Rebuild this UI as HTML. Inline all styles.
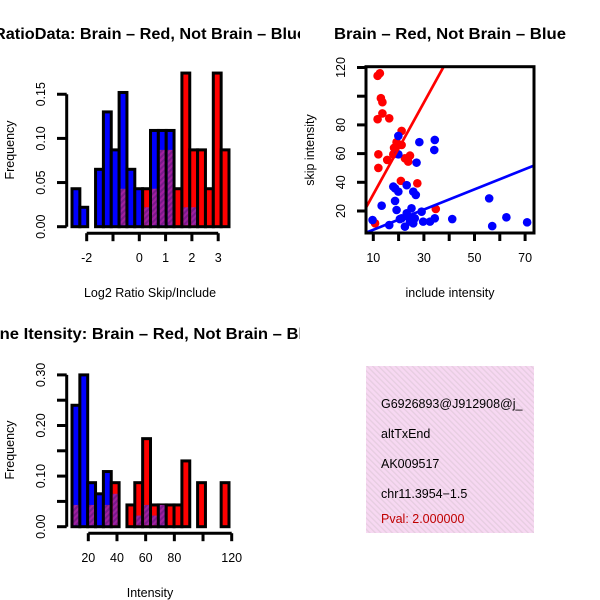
<!DOCTYPE html>
<html><head><meta charset="utf-8"><style>
html,body{margin:0;padding:0;background:#fff;width:600px;height:600px;overflow:hidden}
svg text{font-family:"Liberation Sans",sans-serif}
</style></head><body>
<svg id="c" width="600" height="600" xmlns="http://www.w3.org/2000/svg">
<defs>
<pattern id="purp" patternUnits="userSpaceOnUse" width="4" height="4" patternTransform="rotate(45)">
<rect width="4" height="4" fill="#a020a0"/><rect width="2" height="4" fill="#7a1a8a"/></pattern>
<pattern id="pink" patternUnits="userSpaceOnUse" width="4" height="4" patternTransform="rotate(-45)">
<rect width="4" height="4" fill="#f7d8f2"/><rect width="1.3" height="4" fill="#e6cde0"/></pattern>
<clipPath id="q1"><rect x="0" y="0" width="300" height="300"/></clipPath>
<clipPath id="q2"><rect x="300" y="0" width="300" height="300"/></clipPath>
<clipPath id="q3"><rect x="0" y="300" width="300" height="300"/></clipPath>
<clipPath id="q4"><rect x="366" y="366" width="168" height="167"/></clipPath>
<clipPath id="box"><rect x="366" y="66.7" width="168" height="166.3"/></clipPath>
</defs>
<g id="p1" clip-path="url(#q1)"></g>
<g id="p2" clip-path="url(#q2)"></g>
<g id="p3" clip-path="url(#q3)"></g>
<g id="p4">
<rect x="366" y="366" width="168" height="167" fill="url(#pink)"/>
<g clip-path="url(#q4)" font-size="12.5">
<text x="381" y="408">G6926893@J912908@j_</text>
<text x="381" y="438">altTxEnd</text>
<text x="381" y="468">AK009517</text>
<text x="381" y="498">chr11.3954−1.5</text>
<text x="381" y="523" fill="#c00000">Pval: 2.000000</text>
</g></g>
</svg>
<script>
// Top-left histogram data (frequency per bin)
const ratioBlue = [0.043,0.022,0,0.065,0.13,0.087,0.152,0.065,0.043,0.022,0.109,0.109,0.109,0,0.022,0.022,0,0,0,0];
const ratioRed  = [0,0,0,0,0,0,0.043,0,0,0.043,0.043,0.087,0.087,0.043,0.174,0.087,0.087,0.043,0.174,0.087];
const ratioXTicks = [-2,-1,0,1,2,3];
const ratioXLabels = ["-2","","0","1","2","3"];
const ratioYTicks = [0,0.05,0.10,0.15];
// Bottom-left histogram data
const intBlue = [0.24,0.30,0.087,0.065,0.109,0.065,0,0,0.022,0.043,0.022,0.043,0,0,0,0,0,0,0,0];
const intRed  = [0.043,0,0.043,0,0.043,0.087,0,0.043,0.087,0.174,0.043,0.043,0.043,0.043,0.13,0,0.087,0,0,0.087];
const intXTicks = [20,40,60,80,100,120];
const intXLabels = ["20","40","60","80","","120"];
const intYTicks = [0,0.05,0.10,0.15,0.20,0.25,0.30];
const intYLabels = ["0.00","","0.10","","0.20","","0.30"];
// Scatter data
const redInc  = [11.7,12.6,13,13.6,13.6,11.7,16.3,12,12,15.5,18.2,19.2,21.2,21.2,22.5,24.5,23.8,20.9,27.4,34.7,10.7,17.9];
const redSkip = [114.2,116,98.6,95.8,88,84,84.6,59.5,50,55.6,64,68,75.8,66,56.7,58.6,54.4,41,39.3,21.4,11.4,59.5];
const blueInc  = [9.7,13.3,16.3,18.6,17.9,19.9,19.9,18.6,19.9,23.2,25.8,26.8,28.2,27.1,34.3,34.1,19.2,21.2,23.2,25.1,24.5,22.5,26.4,29.1,29.7,32.4,34.3,41.2,55.8,57,62.6,70.8,20.5,23.8,25.8];
const blueSkip = [13.7,23.7,10.2,27,37,72.3,59.5,35.8,33.5,38,33.5,31.2,68,53.7,69.5,62.5,20.7,14.9,18.4,21.9,12.6,9.1,14.9,19.5,12.6,12.6,14.9,14.4,28.8,9.5,15.6,12.1,14.4,16,11.4];
const redFit = [-0.4,3.2];   // intercept, slope
const blueFit = [-0.1,0.704];
const scXTicks = [10,20,30,40,50,60,70];
const scXLabels = ["10","","30","","50","","70"];
const scYTicks = [20,40,60,80,100,120];
const scYLabels = ["20","40","60","80","","120"];

const NS="http://www.w3.org/2000/svg";
function mk(parent,tag,attrs,text){const e=document.createElementNS(NS,tag);for(const k in attrs)e.setAttribute(k,attrs[k]);if(text!==undefined)e.textContent=text;parent.appendChild(e);return e;}

function hist(g,blue,red,yTop,ySc,xTicks,xLabels,xPos,yTicks,yLabels,title,titleLen,xTitle,yOff){
  const x0=72,bw=157/blue.length,y0=yTop;
  const Y=v=>y0-v*ySc;
  for(let i=0;i<blue.length;i++){
    const b=blue[i],r=red[i],mx=Math.max(b,r),mn=Math.min(b,r);
    if(mx<=0)continue;
    const x=x0+i*bw;
    const bar=mk(g,'rect',{x:x,y:Y(mx),width:bw,height:mx*ySc,fill:b>=r?'#0000ff':'#ff0000',stroke:'#000','stroke-width':3});
    
    
    if(mn>0){
      const p=mk(g,'rect',{x:x+1.5,y:Y(mn),width:bw-3,height:mn*ySc-1.5,fill:'url(#purp)'});
      
      
    }
  }
  const ya=mk(g,'g',{});
  
  
  mk(ya,'line',{x1:66.7,x2:66.7,y1:Y(yTicks[0]),y2:Y(yTicks[yTicks.length-1]),stroke:'#000','stroke-width':3});
  yTicks.forEach((t,i)=>{
    mk(ya,'line',{x1:57,x2:66.7,y1:Y(t),y2:Y(t),stroke:'#000','stroke-width':3});
    if(yLabels[i]){const tx=mk(ya,'text',{x:0,y:0,'font-size':12.5,'text-anchor':'middle',transform:`translate(45,${Y(t)}) rotate(-90)`},yLabels[i]);
      }
  });
  const xa=mk(g,'g',{});
  
  
  const ay=y0+6.5;
  mk(xa,'line',{x1:xPos(xTicks[0]),x2:xPos(xTicks[xTicks.length-1]),y1:ay,y2:ay,stroke:'#000','stroke-width':3});
  xTicks.forEach((t,i)=>{
    mk(xa,'line',{x1:xPos(t),x2:xPos(t),y1:ay,y2:ay+8,stroke:'#000','stroke-width':3});
    if(xLabels[i]){const tx=mk(xa,'text',{x:xPos(t),y:ay+29,'font-size':12.5,'text-anchor':'middle'},xLabels[i]);
      }
  });
  const xt=mk(g,'text',{x:150,y:yOff+297,'font-size':12.5,'text-anchor':'middle'},xTitle);
  
  const yt=mk(g,'text',{x:0,y:0,'font-size':12.5,'text-anchor':'middle',transform:`translate(14,${yOff+150}) rotate(-90)`},'Frequency');
  
  const tt=mk(g,'text',{x:150-titleLen/2,y:yOff+39,'font-size':15.5,'font-weight':'bold',textLength:titleLen,lengthAdjust:'spacingAndGlyphs'},title);
  
}
hist(document.getElementById('p1'),ratioBlue,ratioRed,226.7,883,ratioXTicks,ratioXLabels,v=>139.3+v*26.3,ratioYTicks,["0.00","0.05","0.10","0.15"],"RatioData: Brain – Red, Not Brain – Blue",312,"Log2 Ratio Skip/Include",0);
hist(document.getElementById('p3'),intBlue,intRed,526.7,506,intXTicks,intXLabels,v=>88.3+(v-20)*1.434,intYTicks,intYLabels,"Gene Itensity: Brain – Red, Not Brain – Blue",345,"Intensity",300);

(function(){
  const g=document.getElementById('p2');
  const X=v=>373.3+(v-10)*2.53, Y=v=>211-(v-20)*1.435;
  const pts=mk(g,'g',{'clip-path':'url(#box)'});
  
  redInc.forEach((v,i)=>{const c=mk(pts,'circle',{cx:X(v),cy:Y(redSkip[i]),r:4.3,fill:'#ff0000'});
    });
  blueInc.forEach((v,i)=>{const c=mk(pts,'circle',{cx:X(v),cy:Y(blueSkip[i]),r:4.3,fill:'#0000ff'});
    });
  const rl=mk(pts,'line',{x1:X(5),y1:Y(redFit[0]+redFit[1]*5),x2:X(75),y2:Y(redFit[0]+redFit[1]*75),stroke:'#ff0000','stroke-width':2.7});
  
  const bl=mk(pts,'line',{x1:X(5),y1:Y(blueFit[0]+blueFit[1]*5),x2:X(75),y2:Y(blueFit[0]+blueFit[1]*75),stroke:'#0000ff','stroke-width':2.7});
  
  const fr=mk(g,'rect',{x:366,y:66.7,width:168,height:166.3,fill:'none',stroke:'#000','stroke-width':3});
  
  scXTicks.forEach((t,i)=>{
    mk(g,'line',{x1:X(t),x2:X(t),y1:233,y2:241,stroke:'#000','stroke-width':3});
    if(scXLabels[i]){const tx=mk(g,'text',{x:X(t),y:262,'font-size':12.5,'text-anchor':'middle'},scXLabels[i]);
      }
  });
  scYTicks.forEach((t,i)=>{
    mk(g,'line',{x1:357,x2:366,y1:Y(t),y2:Y(t),stroke:'#000','stroke-width':3});
    if(scYLabels[i]){const tx=mk(g,'text',{x:0,y:0,'font-size':12.5,'text-anchor':'middle',transform:`translate(345,${Y(t)}) rotate(-90)`},scYLabels[i]);
      }
  });
  const xt=mk(g,'text',{x:450,y:297,'font-size':12.5,'text-anchor':'middle'},'include intensity');
  
  const yt=mk(g,'text',{x:0,y:0,'font-size':12.5,'text-anchor':'middle',transform:'translate(314,150) rotate(-90)'},'skip intensity');
  
  const tt=mk(g,'text',{x:334,y:39,'font-size':15.5,'font-weight':'bold',textLength:232,lengthAdjust:'spacingAndGlyphs'},'Brain – Red, Not Brain – Blue');
  
})();
</script>
</body></html>
